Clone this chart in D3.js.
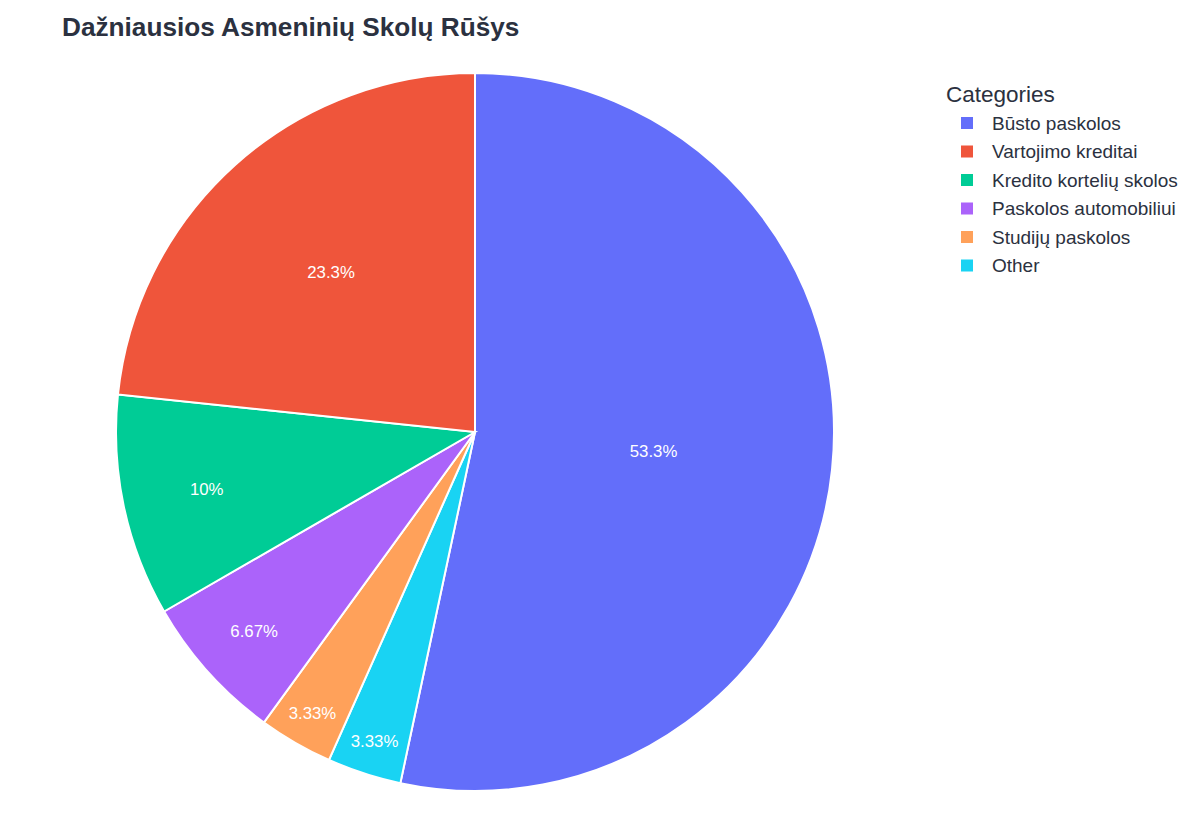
<!DOCTYPE html>
<html>
<head>
<meta charset="utf-8">
<script src="https://cdn.jsdelivr.net/npm/d3@7"></script>
<style>
  body { margin: 0; background: #fff; }
  text { font-family: "Liberation Sans", Arial, sans-serif; }
</style>
</head>
<body>
<div id="chart"></div>
<script>
// legend order
const categories = ["Būsto paskolos", "Vartojimo kreditai", "Kredito kortelių skolos",
    "Paskolos automobiliui", "Studijų paskolos", "Other"];
const values = [16, 7, 3, 2, 1, 1];
const colors = ["#636efa", "#EF553B", "#00cc96", "#ab63fa", "#FFA15A", "#19d3f3"];
// slices go clockwise from 12 o'clock in this order
const drawOrder = ["Būsto paskolos", "Other", "Studijų paskolos",
    "Paskolos automobiliui", "Kredito kortelių skolos", "Vartojimo kreditai"];

const width = 1200, height = 840;
const cx = 475, cy = 432, radius = 359;
const textColor = "#2b3140";

const svg = d3.select("#chart").append("svg")
    .attr("width", width)
    .attr("height", height);

svg.append("text")
    .attr("x", 62)
    .attr("y", 36)
    .attr("font-size", 26.2)
    .attr("font-weight", "bold")
    .attr("fill", textColor)
    .text("Dažniausios Asmeninių Skolų Rūšys");

const color = d3.scaleOrdinal().domain(categories).range(colors);
const total = d3.sum(values);
const rows = drawOrder.map(c => ({ name: c, value: values[categories.indexOf(c)] }));

const pie = d3.pie()
    .sort(null)
    .value(d => d.value);
const arcs = pie(rows);

const arc = d3.arc().innerRadius(0).outerRadius(radius);

const g = svg.append("g").attr("transform", "translate(" + cx + "," + cy + ")");

g.selectAll("path")
    .data(arcs)
    .enter()
    .append("path")
    .attr("d", arc)
    .attr("fill", d => color(d.data.name))
    .attr("stroke", "#fff")
    .attr("stroke-width", 2);

const fmt = v => {
    const p = v / total * 100;
    return d3.format(".3~r")(p) + "%";
};

// label sits at the centre of the circle inscribed in the wedge
g.selectAll(".lbl")
    .data(arcs)
    .enter()
    .append("text")
    .attr("class", "lbl")
    .attr("transform", d => {
        const half = Math.min((d.endAngle - d.startAngle) / 2, Math.PI / 2);
        const r = radius / (1 + Math.sin(half));
        const a = (d.startAngle + d.endAngle) / 2;
        return "translate(" + (r * Math.sin(a)) + "," + (-r * Math.cos(a)) + ")";
    })
    .attr("text-anchor", "middle")
    .attr("dy", "0.35em")
    .attr("font-size", 16.8)
    .attr("fill", "#fff")
    .text(d => fmt(d.data.value));

const legend = svg.append("g").attr("transform", "translate(946,0)");
legend.append("text")
    .attr("x", 0)
    .attr("y", 102)
    .attr("font-size", 22.5)
    .attr("fill", textColor)
    .text("Categories");

const items = legend.selectAll(".item")
    .data(categories)
    .enter()
    .append("g")
    .attr("transform", (d, i) => "translate(0," + (123 + i * 28.5) + ")");

items.append("rect")
    .attr("x", 15)
    .attr("y", -6)
    .attr("width", 12)
    .attr("height", 12)
    .attr("fill", d => color(d));

items.append("text")
    .attr("x", 46)
    .attr("y", 0)
    .attr("dy", "0.35em")
    .attr("font-size", 19)
    .attr("fill", textColor)
    .text(d => d);
</script>
</body>
</html>
